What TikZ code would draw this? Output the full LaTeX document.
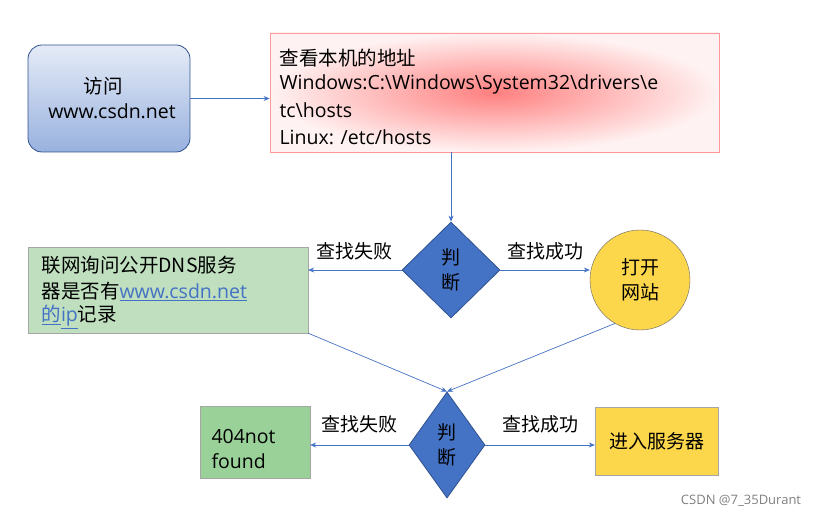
\documentclass[tikz,border=0pt]{standalone}
\usepackage{fontspec}
\setmainfont{Open Sans}
\newfontfamily\cjk{Noto Sans CJK SC}
\usetikzlibrary{shapes.geometric,arrows.meta}
\definecolor{ln}{HTML}{4472C4}
\definecolor{dk}{HTML}{2F528F}
\begin{document}
\begin{tikzpicture}[x=1pt,y=-1pt,
  txt/.style={font=\fontsize{19.5}{25}\selectfont},
  arr/.style={draw=ln,line width=0.7pt,-{Stealth[length=6pt,width=5pt]}},
  dia/.style={diamond,draw=dk,line width=0.8pt,fill=ln,inner sep=0pt,font=\fontsize{19}{25}\cjk,align=center}]
\useasboundingbox (0,0) rectangle (829,518);
\node[draw=dk,line width=0.8pt,rounded corners=14pt,top color=white!30!ln!20,bottom color=ln!55,minimum width=162pt,minimum height=107pt] (a) at (109,98.5) {};
\node[txt] at (103,86) {\cjk 访问};
\node[txt] at (112,111) {www.csdn.net};
\node[draw=red!40,line width=0.8pt,inner color=red!50,outer color=red!5,minimum width=449pt,minimum height=119pt,shading=radial] (b) at (494.5,92.5) {};
\node[txt,anchor=west] at (276,58) {\cjk 查看本机的地址};
\node[txt,anchor=west] at (276,84) {Windows:C:\textbackslash Windows\textbackslash System32\textbackslash drivers\textbackslash e};
\node[txt,anchor=west] at (276,110) {tc\textbackslash hosts};
\node[txt,anchor=west] at (276,137) {Linux: /etc/hosts};
\node[dia,minimum width=98pt,minimum height=96pt] (d1) at (451,270) {判\\断};
\node[draw=gray!70,fill=green!50!black!25!white,minimum width=280pt,minimum height=86pt] (g) at (168,290) {};
\node[txt,anchor=west] at (38,265) {\cjk 联网询问公开DNS服务};
\node[txt,anchor=west] at (38,291) {{\cjk 器是否有}\textcolor{ln}{\underline{www.csdn.net}}};
\node[txt,anchor=west] at (38,317) {{\cjk\textcolor{ln}{\underline{的}}}\textcolor{ln}{\underline{ip}}{\cjk 记录}};
\node[circle,draw=gray!80!black,fill=yellow!60!orange!70,minimum size=100pt,font=\fontsize{19}{25}\cjk,align=center] (c) at (640,280) {打开\\网站};
\node[dia,minimum width=76pt,minimum height=106pt] (d2) at (447,445) {判\\断};
\node[draw=gray!70,fill=green!55!black!40!white,minimum width=110pt,minimum height=72pt] (n) at (255,442) {};
\node[txt,anchor=west,align=left] at (208,449) {404not\\found};
\node[draw=gray!70,fill=yellow!60!orange!70,minimum width=123pt,minimum height=68pt,txt,font=\fontsize{19}{25}\cjk] (s) at (656.5,441) {进入服务器};
\draw[arr] (a.east) -- (b.west|-a.east);
\draw[arr] (b.south-|d1) -- (d1.north);
\draw[arr] (d1.west) -- (g.east|-d1.west) node[midway,above=6pt,txt,font=\fontsize{19}{25}\cjk] {查找失败};
\draw[arr] (d1.east) -- (c.west|-d1.east) node[midway,above=6pt,txt,font=\fontsize{19}{25}\cjk] {查找成功};
\draw[arr] (g.south east) -- (d2.north);
\draw[arr] (c.240) -- (d2.north);
\draw[arr] (d2.west) -- (n.east|-d2.west) node[midway,above=8pt,txt,font=\fontsize{19}{25}\cjk] {查找失败};
\draw[arr] (d2.east) -- (s.west|-d2.east) node[midway,above=8pt,txt,font=\fontsize{19}{25}\cjk] {查找成功};
\node[gray,font=\fontsize{13}{15}\selectfont] at (741,501) {CSDN @7\_35Durant};
\end{tikzpicture}
\end{document}
